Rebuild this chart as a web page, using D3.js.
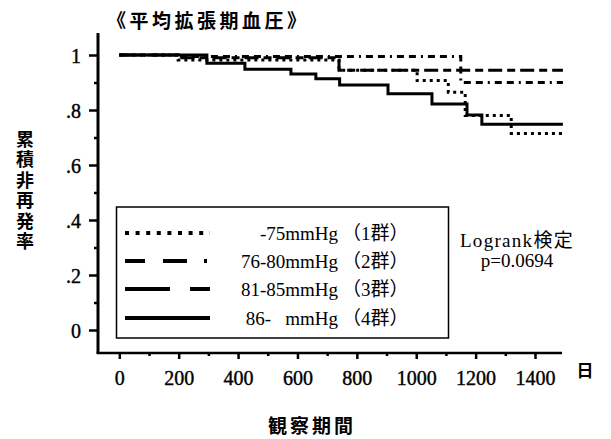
<!DOCTYPE html>
<html>
<head>
<meta charset="utf-8">
<script src="https://cdn.jsdelivr.net/npm/d3@7"></script>
<style>
body { margin: 0; background: #fff; }
</style>
</head>
<body>
<script>
// data
var groupRanges = ["-75mmHg", "76-80mmHg", "81-85mmHg", "86-\u00a0\u00a0\u00a0mmHg"]
var groupTags = ["（1群）", "（2群）", "（3群）", "（4群）"]

var g1Days = [0, 198, 740, 1003, 1108, 1165, 1320, 1494]
var g1Surv = [1, 0.982, 0.945, 0.907, 0.865, 0.78, 0.715, 0.715]
var g2Days = [0, 198, 1150, 1494]
var g2Surv = [1, 0.995, 0.90, 0.90]
var g3Days = [0, 198, 740, 1494]
var g3Surv = [1, 0.99, 0.945, 0.945]
var g4Days = [0, 295, 423, 578, 662, 742, 905, 1053, 1171, 1221, 1494]
var g4Surv = [1, 0.97, 0.948, 0.931, 0.914, 0.891, 0.859, 0.822, 0.782, 0.748, 0.748]

var xTicks = [0, 200, 400, 600, 800, 1000, 1200, 1400]
var xMinor = [100, 300, 500, 700, 900, 1100, 1300]
var yTicks = [0, 0.2, 0.4, 0.6, 0.8, 1]
var yTickLabels = ["0", ".2", ".4", ".6", ".8", "1"]
var yMinor = [0.1, 0.3, 0.5, 0.7, 0.9]

var title = "《平均拡張期血圧》"
var yTitle = "累積非再発率"
var xTitle = "観察期間"
var xUnit = "日"
var testLines = ["Logrank検定", "p=0.0694"]

var width = 611, height = 439
var serif = "'Liberation Serif', 'Times New Roman', serif"
var gothic = "'Noto Sans CJK JP', sans-serif"

var svg = d3.select("body")
            .append("svg")
            .attr("width", width)
            .attr("height", height)

var x = d3.scaleLinear().domain([0, 1400]).range([119.3, 535])
var y = d3.scaleLinear().domain([0, 1]).range([330, 55])

// axis lines
svg.append("line")
    .attr("x1", 98).attr("x2", 98)
    .attr("y1", 33).attr("y2", 353)
    .style("stroke", "black").style("stroke-width", 3)
svg.append("line")
    .attr("x1", 96.5).attr("x2", 562)
    .attr("y1", 353).attr("y2", 353)
    .style("stroke", "black").style("stroke-width", 2.5)

// y axis
var yAxis = svg.append("g")
    .attr("transform", "translate(98,0)")
    .call(d3.axisLeft(y).tickValues(yTicks).tickSize(9).tickPadding(8)
      .tickFormat(function(d, i){ return yTickLabels[i] }))
yAxis.append("g")
    .call(d3.axisLeft(y).tickValues(yMinor).tickSize(4).tickFormat(""))

// x axis
var xAxis = svg.append("g")
    .attr("transform", "translate(0,353)")
    .call(d3.axisBottom(x).tickValues(xTicks).tickSize(6).tickPadding(26)
      .tickFormat(d3.format("d")))
xAxis.append("g")
    .call(d3.axisBottom(x).tickValues(xMinor).tickSize(3).tickFormat(""))

svg.selectAll(".domain").remove()
svg.selectAll(".tick line")
    .style("stroke", "black")
    .style("stroke-width", 2.5)
svg.selectAll(".tick text")
    .style("font-family", serif)
    .style("font-size", "20px")
    .style("fill", "black")
    .style("stroke", "black")
    .style("stroke-width", 0.4)
yAxis.selectAll(".tick text").attr("dy", "0.35em")
xAxis.selectAll(".tick text").attr("dy", "0")

// curves
var groups = [
  {days: g4Days, surv: g4Surv, dash: null, legendDash: null},
  {days: g3Days, surv: g3Surv, dash: "14,5,8,5", legendDash: "45,20,20,0"},
  {days: g2Days, surv: g2Surv, dash: "7,5,7,5,2,5", legendDash: "20,18,24,17,3,20"},
  {days: g1Days, surv: g1Surv, dash: "3,4", legendDash: "4,6.6"}
]

var line = d3.line()
    .x(function(d){ return x(d[0]) })
    .y(function(d){ return y(d[1]) })
    .curve(d3.curveStepAfter)

svg.selectAll("path.curve")
    .data(groups)
    .enter()
    .append("path")
    .attr("class", "curve")
    .attr("d", function(g){
      return line(g.days.map(function(d, i){ return [d, g.surv[i]] }))
    })
    .style("fill", "none")
    .style("stroke", "black")
    .style("stroke-width", 3)
    .style("stroke-dasharray", function(g){ return g.dash })

// legend
svg.append("rect")
    .attr("x", 116.5).attr("y", 207)
    .attr("width", 332).attr("height", 131)
    .style("fill", "white")
    .style("stroke", "black")
    .style("stroke-width", 1.5)

var legendOrder = [groups[3], groups[2], groups[1], groups[0]]
var rowY = [233, 261, 289, 318]

svg.selectAll("line.legend")
    .data(legendOrder)
    .enter()
    .append("line")
    .attr("class", "legend")
    .attr("x1", 125).attr("x2", 210)
    .attr("y1", function(d, i){ return rowY[i] })
    .attr("y2", function(d, i){ return rowY[i] })
    .style("stroke", "black")
    .style("stroke-width", 4)
    .style("stroke-dasharray", function(d){ return d.legendDash })

svg.selectAll("text.range")
    .data(groupRanges)
    .enter()
    .append("text")
    .attr("class", "range")
    .attr("x", 338)
    .attr("y", function(d, i){ return rowY[i] + 7 })
    .attr("text-anchor", "end")
    .style("font-family", serif)
    .style("font-size", "19px")
    .text(function(d){ return d })

svg.selectAll("text.tag")
    .data(groupTags)
    .enter()
    .append("text")
    .attr("class", "tag")
    .attr("x", 342)
    .attr("y", function(d, i){ return rowY[i] + 7 })
    .style("font-family", serif + ", 'Noto Sans CJK JP'")
    .style("font-size", "19px")
    .text(function(d){ return d })

// logrank note
svg.selectAll("text.test")
    .data(testLines)
    .enter()
    .append("text")
    .attr("class", "test")
    .attr("x", 517)
    .attr("y", function(d, i){ return 247 + i*20 })
    .attr("text-anchor", "middle")
    .style("font-family", serif + ", 'Noto Sans CJK JP'")
    .style("font-size", "19px")
    .style("letter-spacing", function(d, i){ return i == 0 ? "1.3px" : "0px" })
    .text(function(d){ return d })

// titles
svg.append("text")
    .attr("x", 107).attr("y", 28)
    .style("font-family", gothic)
    .style("font-weight", "bold")
    .style("font-size", "19px")
    .style("letter-spacing", "3.5px")
    .text(title)

svg.append("text")
    .attr("x", 25).attr("y", 130)
    .style("writing-mode", "vertical-rl")
    .style("font-family", gothic)
    .style("font-weight", "bold")
    .style("font-size", "18px")
    .style("letter-spacing", "2.5px")
    .text(yTitle)

svg.append("text")
    .attr("x", 312).attr("y", 433)
    .attr("text-anchor", "middle")
    .style("font-family", gothic)
    .style("font-weight", "bold")
    .style("font-size", "19px")
    .style("letter-spacing", "3px")
    .text(xTitle)

svg.append("text")
    .attr("x", 585).attr("y", 377)
    .attr("text-anchor", "middle")
    .style("font-family", gothic)
    .style("font-weight", "bold")
    .style("font-size", "17px")
    .text(xUnit)
</script>
</body>
</html>
